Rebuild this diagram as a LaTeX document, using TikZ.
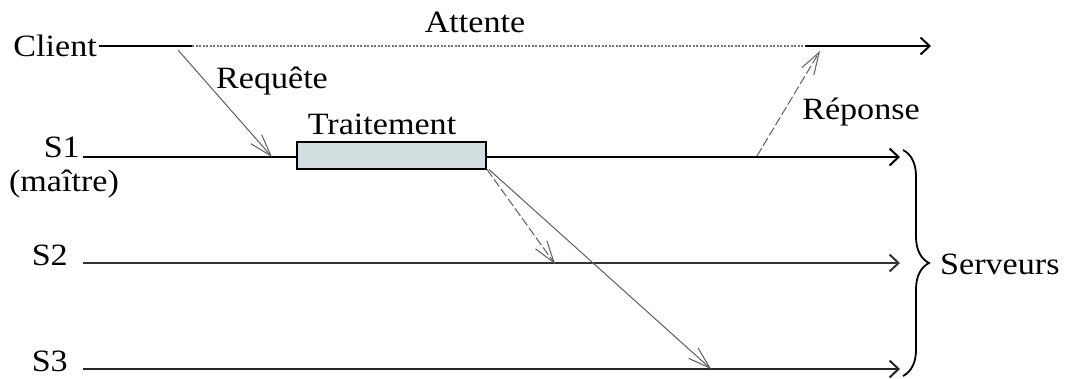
\documentclass[tikz,border=0pt]{standalone}
\usepackage{fontspec}
\setmainfont[FakeStretch=1.1]{Liberation Serif}
\usetikzlibrary{arrows.meta,decorations.pathreplacing}
\definecolor{boxfill}{HTML}{D2DEDF}
\definecolor{msggray}{HTML}{5E5E5E}
\begin{document}
\begin{tikzpicture}[x=1pt,y=-1pt,
  lbl/.style={inner sep=0pt,font=\fontsize{31}{36}\selectfont},
  tip/.style={-{Straight Barb[length=9pt,width=17pt,line width=2pt]}},
  msg/.style={draw=msggray,line width=1pt,-{Straight Barb[length=22pt,width=14pt,line width=1pt]}},
  msgdash/.style={msg,dash pattern=on 9pt off 3pt}]
\useasboundingbox (0,0) rectangle (1067,378);

% labels of the time lines
\node[lbl,anchor=east] (client) at (97,46) {Client};
\node[lbl,anchor=base east] (s1) at (80,157) {S1};
\node[lbl,anchor=center] (maitre) at (64,184) {(maître)};
\node[lbl,anchor=base east] (s2) at (68,265) {S2};
\node[lbl,anchor=base east] (s3) at (68,371) {S3};

% client time line: active, waiting, active again
\coordinate (c0) at (99,46);
\coordinate (c1) at (192,46);
\coordinate (c2) at (805,46);
\coordinate (c3) at (931,46);
\draw[line width=2.6pt] (c0) -- (c1);
\draw[black!55,line width=1.4pt,dash pattern=on 2pt off 1.5pt] (c1) -- (c2);
\draw[line width=2.6pt,tip] (c2) -- (c3);
\node[lbl] (attente) at (475,22) {Attente};

% server time lines
\coordinate (a0) at (83,157);
\coordinate (a1) at (900,157);
\coordinate (b0) at (83,263);
\coordinate (b1) at (900,263);
\coordinate (d0) at (83,369);
\coordinate (d1) at (900,369);
\draw[line width=2.2pt,tip] (a0) -- (a1);
\draw[black!80,line width=1.2pt,tip] (b0) -- (b1);
\draw[black!85,line width=1.7pt,tip] (d0) -- (d1);

% processing on the master
\node[draw,line width=2pt,fill=boxfill,minimum width=189pt,minimum height=27pt,inner sep=0pt] (trait) at (391.5,155) {};
\node[lbl] (traitlbl) at (382,124) {Traitement};

% messages
\coordinate (req0) at (178,50);
\coordinate (req1) at (272,157);
\draw[msg] (req0) -- (req1);
\node[lbl] (requete) at (272,81) {Requête};

\coordinate (rep0) at (757,156);
\coordinate (rep1) at (820,51);
\draw[msgdash] (rep0) -- (rep1);
\node[lbl] (reponse) at (861,112) {Réponse};

\coordinate (e2) at (555,264);
\coordinate (e3) at (711,369);
\draw[msgdash] (trait.south east) -- (e2);
\draw[msg] ([xshift=2pt]trait.south east) -- (e3);

% grouping of the servers
\coordinate (br0) at (903,150);
\coordinate (br1) at (903,376);
\draw[line width=1.8pt,decorate,decoration={brace,amplitude=26pt,aspect=0.5}] (br0) -- (br1);
\node[lbl,anchor=west] (serveurs) at (940,264) {Serveurs};
\end{tikzpicture}
\end{document}
